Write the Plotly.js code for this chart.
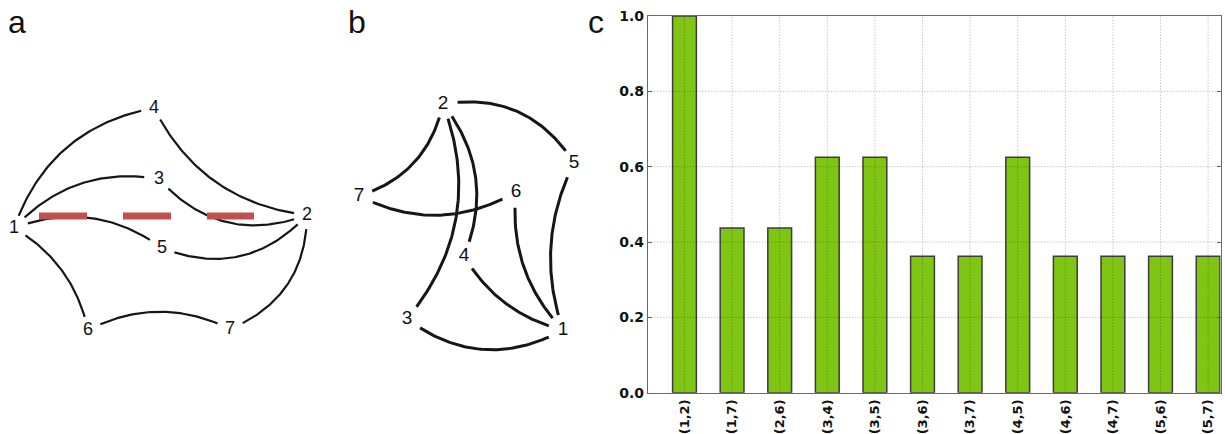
<!DOCTYPE html>
<html><head><meta charset="utf-8">
<script src="https://cdn.plot.ly/plotly-3.0.1.min.js"></script>
<style>html,body{margin:0;padding:0;background:#fff}#chart{width:1225px;height:434px}</style>
</head><body><div id="chart"></div>
<script>
// ---------- Panel c: bar chart data ----------
const pairs = ['(1,2)','(1,7)','(2,6)','(3,4)','(3,5)','(3,6)','(3,7)','(4,5)','(4,6)','(4,7)','(5,6)','(5,7)'];
const scores = [1.0, 0.4375, 0.4375, 0.625, 0.625, 0.3625, 0.3625, 0.625, 0.3625, 0.3625, 0.3625, 0.3625];
const yTickVals = [0, 0.2, 0.4, 0.6, 0.8, 1.0];
const yTickText = ['0.0', '0.2', '0.4', '0.6', '0.8', '1.0'];

// ---------- Panel a: graph layout (node positions in panel pixel space) ----------
const nodeNames = ['1','2','3','4','5','6','7'];
const nodeAx = [14, 307, 159, 154, 162, 88, 230];
const nodeAy = [228, 215, 179, 108, 248, 330, 329];
const edgeAfrom = [1, 4, 1, 3, 1, 5, 1, 6, 7];
const edgeAto   = [4, 2, 3, 2, 5, 2, 6, 7, 2];
const edgeAbend = [-0.29, 0.27, -0.27, 0.34, -0.27, 0.34, -0.22, -0.25, 0.33];
const cutAx = [39, 254];
const cutAy = [216, 216];

// ---------- Panel b: graph layout ----------
const nodeBx = [563, 443, 407, 464, 574, 516, 359];
const nodeBy = [330, 104, 319, 256, 163, 192, 196];
const edgeBfrom = [2, 2, 2, 2, 7, 6, 5, 4, 3];
const edgeBto   = [5, 7, 3, 4, 6, 1, 1, 1, 1];
const edgeBbend = [-0.33, -0.29, -0.29, -0.29, 0.27, 0.23, 0.21, 0.21, 0.32];

const panelLabels = ['a', 'b', 'c'];
const panelLabelX = [17, 357, 596];
const panelLabelY = [22, 22, 22];

function curvePaths(nx, ny, from, to, bend, trim) {
  const xs = [], ys = [];
  for (let e = 0; e < from.length; e++) {
    const a = from[e] - 1, b = to[e] - 1;
    const x0 = nx[a], y0 = ny[a], x1 = nx[b], y1 = ny[b];
    const dx = x1 - x0, dy = y1 - y0;
    const cx = (x0 + x1) / 2 + bend[e] * (-dy), cy = (y0 + y1) / 2 + bend[e] * dx;
    const N = 80;
    for (let k = 0; k <= N; k++) {
      const t = k / N, u = 1 - t;
      const px = u*u*x0 + 2*u*t*cx + t*t*x1;
      const py = u*u*y0 + 2*u*t*cy + t*t*y1;
      if (Math.hypot(px - x0, py - y0) > trim && Math.hypot(px - x1, py - y1) > trim) {
        xs.push(px); ys.push(py);
      }
    }
    xs.push(null); ys.push(null);
  }
  return {xs, ys};
}

const eA = curvePaths(nodeAx, nodeAy, edgeAfrom, edgeAto, edgeAbend, 13);
const eB = curvePaths(nodeBx, nodeBy, edgeBfrom, edgeBto, edgeBbend, 14);

const idx = pairs.map((_, i) => i);
const xRange = [-0.76, 11.26];

const traces = [
  {type:'scatter', mode:'lines', x:eA.xs, y:eA.ys, xaxis:'x', yaxis:'y',
   line:{color:'#161616', width:2.2}, hoverinfo:'skip', showlegend:false},
  {type:'scatter', mode:'lines', x:cutAx, y:cutAy, xaxis:'x', yaxis:'y',
   line:{color:'#c0504d', width:7, dash:'48px,36px'}, hoverinfo:'skip', showlegend:false},
  {type:'scatter', mode:'text', x:nodeAx, y:nodeAy, text:nodeNames, xaxis:'x', yaxis:'y',
   textposition:'middle center', textfont:{family:'Liberation Sans, Arial, sans-serif', size:18, color:'#111'},
   hoverinfo:'skip', showlegend:false},
  {type:'scatter', mode:'lines', x:eB.xs, y:eB.ys, xaxis:'x', yaxis:'y',
   line:{color:'#161616', width:3}, hoverinfo:'skip', showlegend:false},
  {type:'scatter', mode:'text', x:nodeBx, y:nodeBy, text:nodeNames, xaxis:'x', yaxis:'y',
   textposition:'middle center', textfont:{family:'Liberation Sans, Arial, sans-serif', size:19, color:'#111'},
   hoverinfo:'skip', showlegend:false},
  {type:'bar', x:idx, y:scores, width:0.5, xaxis:'x2', yaxis:'y2',
   marker:{color:'#7fc514', line:{color:'#3c3c3c', width:1.5}}, hoverinfo:'skip', showlegend:false}
];

const shapes = [];
yTickVals.forEach(v => {
  if (v > 0 && v < 1) shapes.push({type:'line', layer:'above', xref:'x2 domain', x0:0, x1:1, yref:'y2', y0:v, y1:v,
    line:{color:'rgba(0,0,0,0.32)', width:1, dash:'1px,2px'}});
});
idx.forEach(i => shapes.push({type:'line', layer:'above', xref:'x2', x0:i, x1:i, yref:'y2 domain', y0:0, y1:1,
  line:{color:'rgba(0,0,0,0.32)', width:1, dash:'1px,2px'}}));

const annotations = panelLabels.map((t, i) => ({
  text:t, x:panelLabelX[i], y:panelLabelY[i], xref:'x', yref:'y', showarrow:false,
  xanchor:'center', yanchor:'middle', font:{family:'Liberation Sans, Arial, sans-serif', size:32, color:'#111'}
}));

const yTickFont = {family:'DejaVu Sans, Verdana, sans-serif', size:14, color:'#111', weight:'bold'};
const xTickFont = {family:'DejaVu Sans, Verdana, sans-serif', size:13, color:'#111', weight:'bold'};

const layout = {
  width:1225, height:434, margin:{l:0, r:0, t:0, b:0},
  paper_bgcolor:'#fff', plot_bgcolor:'rgba(0,0,0,0)', showlegend:false, hovermode:false,
  xaxis:{domain:[0,1], range:[0,1225], visible:false, fixedrange:true},
  yaxis:{domain:[0,1], range:[434,0], visible:false, fixedrange:true},
  xaxis2:{domain:[648.3/1225, 1220.5/1225], anchor:'y2', range:xRange, tickmode:'array', tickvals:idx, ticktext:pairs,
    tickangle:-90, showgrid:false, zeroline:false, showline:true, mirror:true, linecolor:'#6a6a6a', linewidth:1.5,
    ticks:'', ticklabelstandoff:0, tickfont:xTickFont, fixedrange:true},
  yaxis2:{domain:[1 - 392.7/434, 1 - 16/434], anchor:'x2', range:[0,1], tickmode:'array', tickvals:yTickVals, ticktext:yTickText,
    showgrid:false, zeroline:false, showline:true, mirror:'allticks', linecolor:'#6a6a6a', linewidth:1.5,
    ticks:'inside', ticklen:4, tickcolor:'#6a6a6a', tickfont:yTickFont, fixedrange:true},
  shapes, annotations
};

Plotly.newPlot('chart', traces, layout, {staticPlot:true, displayModeBar:false});
</script>
</body></html>
